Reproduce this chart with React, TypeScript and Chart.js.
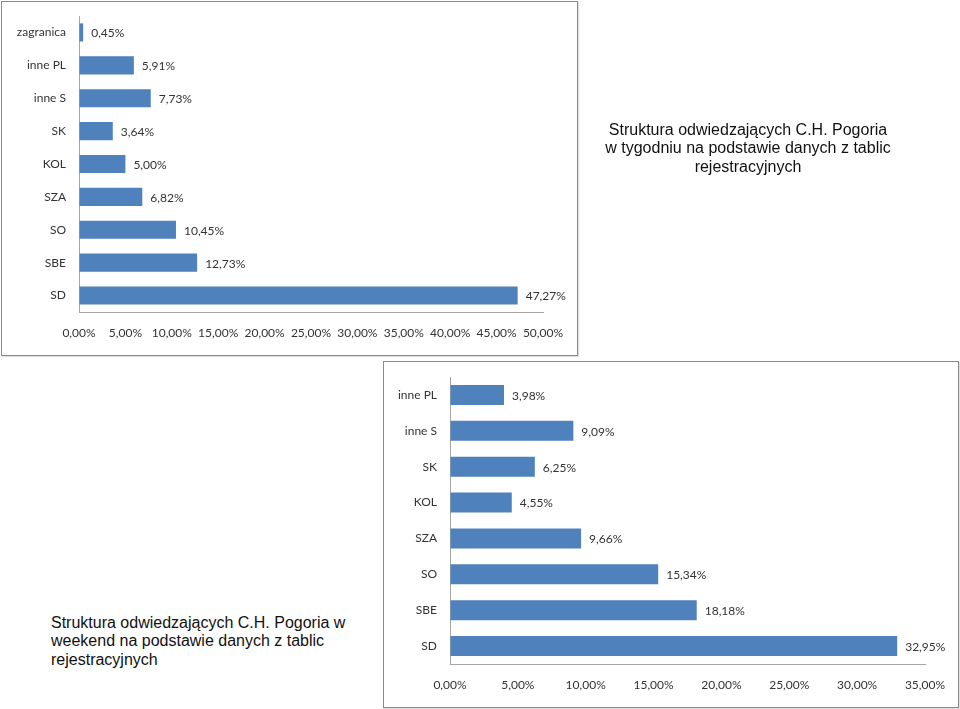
import React, { useEffect, useRef } from "react";
import { Chart, registerables } from "chart.js";

Chart.register(...registerables);

const weekLabels = ["zagranica", "inne PL", "inne S", "SK", "KOL", "SZA", "SO", "SBE", "SD"];
const weekValues = [0.45, 5.91, 7.73, 3.64, 5.0, 6.82, 10.45, 12.73, 47.27];
const weekMax = 50;

const weekendLabels = ["inne PL", "inne S", "SK", "KOL", "SZA", "SO", "SBE", "SD"];
const weekendValues = [3.98, 9.09, 6.25, 4.55, 9.66, 15.34, 18.18, 32.95];
const weekendMax = 35;

const tickStep = 5;

const weekTitle = ["Struktura odwiedzających C.H. Pogoria", "w tygodniu na podstawie danych z tablic", "rejestracyjnych"];
const weekendTitle = ["Struktura odwiedzających C.H. Pogoria w", "weekend na podstawie danych z tablic", "rejestracyjnych"];

const FONT = "Lato, 'Open Sans', sans-serif";
const TEXT = "#333333";
const BAR = "#4f81bd";
const AXIS = "#a6a6a6";

const fmt = (v: number) => v.toFixed(2).replace(".", ",") + "%";

const valueLabels = {
  id: "valueLabels",
  afterDatasetsDraw(chart: any) {
    const ctx = chart.ctx;
    const meta = chart.getDatasetMeta(0);
    const data = chart.data.datasets[0].data as number[];
    ctx.save();
    ctx.font = `12px ${FONT}`;
    ctx.fillStyle = TEXT;
    ctx.textAlign = "left";
    ctx.textBaseline = "middle";
    meta.data.forEach((el: any, i: number) => {
      ctx.fillText(fmt(data[i]), el.x + 8, el.y + 1);
    });
    ctx.restore();
  },
};

type BarProps = {
  labels: string[];
  values: number[];
  max: number;
  left: number;
  top: number;
  width: number;
  height: number;
  yAxisWidth: number;
  padTop: number;
  padRight: number;
  padBottom: number;
  barPct: number;
};

function BarChart(p: BarProps) {
  const ref = useRef<HTMLCanvasElement>(null);
  useEffect(() => {
    if (!ref.current) return;
    const chart = new Chart(ref.current, {
      type: "bar",
      data: {
        labels: p.labels,
        datasets: [
          {
            data: p.values,
            backgroundColor: BAR,
            borderWidth: 0,
            categoryPercentage: 1,
            barPercentage: p.barPct,
          },
        ],
      },
      options: {
        indexAxis: "y",
        animation: false,
        responsive: false,
        maintainAspectRatio: false,
        layout: { padding: { left: 0, top: p.padTop, right: p.padRight, bottom: p.padBottom } },
        plugins: { legend: { display: false }, tooltip: { enabled: false }, title: { display: false } },
        scales: {
          x: {
            min: 0,
            max: p.max,
            grid: { color: "rgba(0,0,0,0)", drawTicks: false },
            border: { color: AXIS, width: 1 },
            ticks: {
              stepSize: tickStep,
              padding: 14,
              maxRotation: 0,
              autoSkip: false,
              color: TEXT,
              font: { family: FONT, size: 12 },
              callback: (v: any) => fmt(Number(v)),
            },
            afterFit: (s: any) => {
              s.height = 30;
              s.paddingLeft = 0;
              s.paddingRight = 0;
            },
          },
          y: {
            grid: { color: "rgba(0,0,0,0)", drawTicks: false },
            border: { color: AXIS, width: 1 },
            ticks: {
              padding: 13,
              color: TEXT,
              font: { family: FONT, size: 12 },
            },
            afterFit: (s: any) => {
              s.width = p.yAxisWidth;
              s.paddingTop = 0;
              s.paddingBottom = 0;
            },
          },
        },
      },
      plugins: [valueLabels],
    });
    return () => chart.destroy();
  }, []);
  return (
    <canvas
      ref={ref}
      width={p.width}
      height={p.height}
      style={{ position: "absolute", left: p.left, top: p.top, width: p.width, height: p.height }}
    />
  );
}

const box = (left: number, top: number, width: number, height: number): React.CSSProperties => ({
  position: "absolute",
  left,
  top,
  width,
  height,
  boxSizing: "border-box",
  border: "1px solid #8a8a8a",
  background: "#fff",
  boxShadow: "1px 1px 1px rgba(0,0,0,0.12)",
});

const titleStyle: React.CSSProperties = {
  position: "absolute",
  fontFamily: "'Liberation Sans', Arial, sans-serif",
  fontSize: 16,
  lineHeight: "18.4px",
  color: "#111",
  whiteSpace: "nowrap",
};

export default function App() {
  return (
    <div style={{ position: "absolute", left: 0, top: 0, width: 960, height: 709, background: "#fff", overflow: "hidden" }}>
      <div style={box(1, 1, 577, 355)} />
      <BarChart
        labels={weekLabels}
        values={weekValues}
        max={weekMax}
        left={0}
        top={0}
        width={578}
        height={356}
        yAxisWidth={79}
        padTop={16}
        padRight={35}
        padBottom={14}
        barPct={0.55}
      />
      <div style={box(383, 361, 576, 347)} />
      <BarChart
        labels={weekendLabels}
        values={weekendValues}
        max={weekendMax}
        left={383}
        top={361}
        width={576}
        height={346}
        yAxisWidth={67}
        padTop={16}
        padRight={34}
        padBottom={13}
        barPct={0.56}
      />
      <div style={{ ...titleStyle, left: 548, top: 121, width: 400, textAlign: "center" }}>
        {weekTitle.map((l, i) => (
          <div key={i}>{l}</div>
        ))}
      </div>
      <div style={{ ...titleStyle, left: 51, top: 614, textAlign: "left" }}>
        {weekendTitle.map((l, i) => (
          <div key={i}>{l}</div>
        ))}
      </div>
    </div>
  );
}
